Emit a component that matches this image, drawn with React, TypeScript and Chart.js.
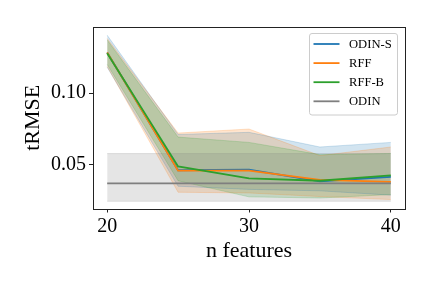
import React, { useEffect, useRef } from "react";
import { Chart, registerables } from "chart.js";

Chart.register(...registerables);

const nFeatures = [20, 25, 30, 35, 40];

const odinSMean = [0.1282, 0.0463, 0.0467, 0.0386, 0.0417];
const odinSLow = [0.118, 0.0352, 0.033, 0.032, 0.029];
const odinSHigh = [0.1403, 0.0712, 0.0727, 0.0625, 0.0657];

const rffMean = [0.1282, 0.046, 0.046, 0.0396, 0.0382];
const rffLow = [0.1185, 0.031, 0.0305, 0.028, 0.0259];
const rffHigh = [0.138, 0.0722, 0.075, 0.0565, 0.0625];

const rffBMean = [0.1278, 0.049, 0.0407, 0.039, 0.0428];
const rffBLow = [0.12, 0.039, 0.0278, 0.027, 0.0294];
const rffBHigh = [0.137, 0.0694, 0.0657, 0.0572, 0.058];

const odinMean = [0.0372, 0.0372, 0.0372, 0.0372, 0.0372];
const odinLow = [0.0247, 0.0247, 0.0247, 0.0247, 0.0247];
const odinHigh = [0.0579, 0.0579, 0.0579, 0.0579, 0.0579];

const seriesNames = ["ODIN-S", "RFF", "RFF-B", "ODIN"];
const seriesColors = [
  [31, 119, 180],
  [255, 127, 14],
  [44, 160, 44],
  [127, 127, 127],
];

const xTicks = [20, 30, 40];
const yTicks = [0.05, 0.1];
const xLabel = "n features";
const yLabel = "tRMSE";

const FONT = "'Liberation Serif', 'DejaVu Serif', serif";

const pts = (ys: number[]) => ys.map((y, i) => ({ x: nFeatures[i], y }));
const rgba = (c: number[], a: number) => `rgba(${c[0]},${c[1]},${c[2]},${a})`;

const boxAndLegend = {
  id: "boxAndLegend",
  afterDraw(chart: any) {
    const { ctx, chartArea } = chart;
    ctx.save();
    ctx.strokeStyle = "#222";
    ctx.lineWidth = 1;
    ctx.strokeRect(
      Math.round(chartArea.left) + 0.5,
      Math.round(chartArea.top) + 0.5,
      Math.round(chartArea.right - chartArea.left),
      Math.round(chartArea.bottom - chartArea.top)
    );
    // legend
    const lx = 309.5, ly = 33.5, lw = 88, lh = 81.5, r = 2.5;
    ctx.beginPath();
    ctx.moveTo(lx + r, ly);
    ctx.lineTo(lx + lw - r, ly);
    ctx.quadraticCurveTo(lx + lw, ly, lx + lw, ly + r);
    ctx.lineTo(lx + lw, ly + lh - r);
    ctx.quadraticCurveTo(lx + lw, ly + lh, lx + lw - r, ly + lh);
    ctx.lineTo(lx + r, ly + lh);
    ctx.quadraticCurveTo(lx, ly + lh, lx, ly + lh - r);
    ctx.lineTo(lx, ly + r);
    ctx.quadraticCurveTo(lx, ly, lx + r, ly);
    ctx.closePath();
    ctx.fillStyle = "rgba(255,255,255,0.8)";
    ctx.fill();
    ctx.strokeStyle = "#cccccc";
    ctx.lineWidth = 1;
    ctx.stroke();
    ctx.font = `12.6px ${FONT}`;
    ctx.textBaseline = "middle";
    ctx.textAlign = "left";
    seriesNames.forEach((name, i) => {
      const y = 44 + i * 19.1;
      ctx.strokeStyle = rgba(seriesColors[i], 1);
      ctx.lineWidth = 1.8;
      ctx.beginPath();
      ctx.moveTo(313.5, y);
      ctx.lineTo(339.5, y);
      ctx.stroke();
      ctx.fillStyle = "#000";
      ctx.fillText(name, 349, y + 0.5);
    });
    ctx.restore();
  },
};

export default function App() {
  const ref = useRef<HTMLCanvasElement | null>(null);

  useEffect(() => {
    if (!ref.current) return;
    const bands = [
      [odinSLow, odinSHigh],
      [rffLow, rffHigh],
      [rffBLow, rffBHigh],
      [odinLow, odinHigh],
    ];
    const means = [odinSMean, rffMean, rffBMean, odinMean];
    const datasets: any[] = [];
    bands.forEach(([lo, hi], i) => {
      datasets.push({
        label: seriesNames[i] + " low",
        data: pts(lo),
        borderColor: rgba(seriesColors[i], 0.2),
        borderWidth: 1,
        pointRadius: 0,
        fill: false,
        order: 40 - i * 10,
      });
      datasets.push({
        label: seriesNames[i] + " high",
        data: pts(hi),
        borderColor: rgba(seriesColors[i], 0.2),
        backgroundColor: rgba(seriesColors[i], 0.2),
        borderWidth: 1,
        pointRadius: 0,
        fill: "-1",
        order: 40 - i * 10,
      });
    });
    means.forEach((m, i) => {
      datasets.push({
        label: seriesNames[i],
        data: pts(m),
        borderColor: rgba(seriesColors[i], 1),
        borderWidth: 1.8,
        pointRadius: 0,
        fill: false,
        order: 4 - i,
      });
    });

    const chart = new Chart(ref.current, {
      type: "line",
      data: { datasets },
      plugins: [boxAndLegend],
      options: {
        animation: false,
        responsive: false,
        devicePixelRatio: 1,
        layout: { padding: { left: 0, right: 27, top: 27, bottom: 0 } },
        plugins: {
          legend: { display: false },
          tooltip: { enabled: false },
          filler: { drawTime: "beforeDatasetsDraw" },
        },
        elements: { line: { tension: 0 } },
        scales: {
          x: {
            type: "linear",
            min: 19,
            max: 41,
            afterBuildTicks: (s: any) => {
              s.ticks = xTicks.map((v) => ({ value: v }));
            },
            afterFit: (s: any) => {
              s.height = 79.5;
            },
            grid: {
              drawOnChartArea: false,
              drawTicks: true,
              tickLength: 4,
              color: "#222",
            },
            border: { display: false },
            ticks: {
              color: "#000",
              padding: 2,
              maxRotation: 0,
              font: { family: FONT, size: 20 },
              callback: (v: any) => String(v),
            },
            title: {
              display: true,
              text: xLabel,
              color: "#000",
              font: { family: FONT, size: 22 },
              padding: { top: 0, bottom: 24 },
            },
          },
          y: {
            type: "linear",
            min: 0.0197,
            max: 0.146,
            afterBuildTicks: (s: any) => {
              s.ticks = yTicks.map((v) => ({ value: v }));
            },
            afterFit: (s: any) => {
              s.width = 93;
            },
            grid: {
              drawOnChartArea: false,
              drawTicks: true,
              tickLength: 4,
              color: "#222",
            },
            border: { display: false },
            ticks: {
              color: "#000",
              padding: 3,
              font: { family: FONT, size: 20 },
              callback: (v: any) => Number(v).toFixed(2),
            },
            title: {
              display: true,
              text: yLabel,
              color: "#000",
              font: { family: FONT, size: 22 },
              padding: { top: 20, bottom: 0 },
            },
          },
        },
      } as any,
    });
    return () => chart.destroy();
  }, []);

  return (
    <div style={{ position: "absolute", left: 0, top: 0, width: 432, height: 288 }}>
      <canvas ref={ref} width={432} height={288} style={{ display: "block", width: 432, height: 288 }} />
    </div>
  );
}
